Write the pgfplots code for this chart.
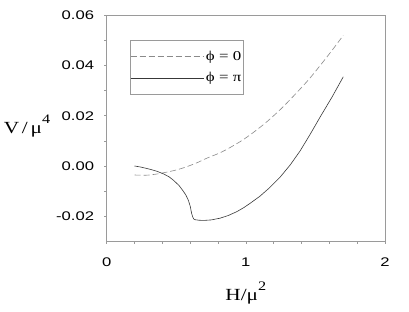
\documentclass[border=0pt]{standalone}
\usepackage{fontspec}
\setmainfont{Liberation Serif}
\newfontfamily\tickfont[FakeStretch=1.33]{Liberation Sans}
\newfontfamily\serifst[FakeStretch=1.25]{Liberation Serif}
\usepackage{pgfplots}
\pgfplotsset{compat=1.18}
\definecolor{framegray}{HTML}{9A9A9A}
\definecolor{dashgray}{HTML}{8A8A8A}
\definecolor{solidgray}{HTML}{383838}
\begin{document}
\begin{tikzpicture}
\begin{axis}[
  scale only axis,
  width=278.3pt, height=226pt,
  xmin=0, xmax=2, ymin=-0.03, ymax=0.06,
  scaled y ticks=false, scaled x ticks=false,
  xtick={0,1,2}, xticklabels={0,1,2},
  ytick={-0.02,0,0.02,0.04,0.06},
  yticklabels={-0.02,0.00,0.02,0.04,0.06},
  minor x tick num=4, minor y tick num=1,
  xtick pos=bottom, ytick pos=left,
  tick align=outside,
  major tick length=2.5pt, minor tick length=2.5pt,
  axis line style={framegray, line width=0.6pt},
  every tick/.style={framegray, line width=0.6pt},
  every minor tick/.style={framegray, line width=0.6pt},
  yticklabel style={font=\tickfont\fontsize{12.5}{12.5}\selectfont, anchor=east, inner sep=0pt, xshift=-10pt},
  xticklabel style={font=\tickfont\fontsize{12.5}{12.5}\selectfont, anchor=north, inner sep=0pt, yshift=-14pt},
  legend image code/.code={\draw[#1] (0pt,0pt) -- (73pt,0pt);},
  legend style={at={(0.084,0.891)}, anchor=north west, draw=framegray, line width=0.6pt,
    font=\serifst\fontsize{13.5}{13.5}\selectfont, inner xsep=0pt, inner ysep=8.5pt,
    row sep=7pt, cells={anchor=west}},
  legend cell align=left,
]
\addplot[dashgray, line width=0.6pt, dash pattern=on 6pt off 3pt, smooth, tension=0.5] coordinates {
(0.20,-0.0036) (0.28,-0.0037) (0.35,-0.0033) (0.41,-0.0027) (0.50,-0.0016) (0.575,-0.0003)
(0.65,0.0013) (0.72,0.0031) (0.80,0.0049) (0.863,0.0066) (0.971,0.0101) (1.06,0.0136)
(1.151,0.0176) (1.25,0.0226) (1.342,0.0278) (1.45,0.0343) (1.547,0.0409) (1.63,0.0468) (1.70,0.0520)
};
\addlegendentry{ϕ = 0}
\addplot[solidgray, line width=0.6pt] coordinates {
(0.20,0.0000) (0.25,-0.0005) (0.31,-0.0013) (0.36,-0.0021) (0.41,-0.0032) (0.45,-0.0044) (0.48,-0.0057)
(0.52,-0.0078) (0.55,-0.0100) (0.57,-0.0117) (0.587,-0.0137) (0.60,-0.0160) (0.61,-0.0188) (0.618,-0.0203)
(0.625,-0.0211) (0.635,-0.0214) (0.66,-0.0216) (0.695,-0.0217) (0.75,-0.0215) (0.815,-0.0208) (0.875,-0.0197)
(0.935,-0.0182) (0.985,-0.0166) (1.03,-0.0149) (1.10,-0.0121) (1.17,-0.0087) (1.247,-0.0044) (1.32,0.0005)
(1.39,0.0060) (1.46,0.0124) (1.535,0.0196) (1.62,0.0275) (1.70,0.0355)
};
\addlegendentry{ϕ = π}
\end{axis}
\node[anchor=base, font=\serifst\fontsize{17}{17}\selectfont] at ([shift={(-79.7pt,-118pt)}]current axis.north west)
  {V\,/\,μ\raisebox{10pt}{\fontsize{13}{13}\selectfont 4}};
\node[anchor=base, font=\serifst\fontsize{17}{17}\selectfont] at ([shift={(0pt,-59pt)}]current axis.south)
  {H/μ\raisebox{10pt}{\fontsize{13}{13}\selectfont 2}};
\pgfresetboundingbox
\path ([shift={(-106.7pt,-70.7pt)}]current axis.south west) rectangle ([shift={(24pt,15.3pt)}]current axis.north east);
\end{tikzpicture}
\end{document}
